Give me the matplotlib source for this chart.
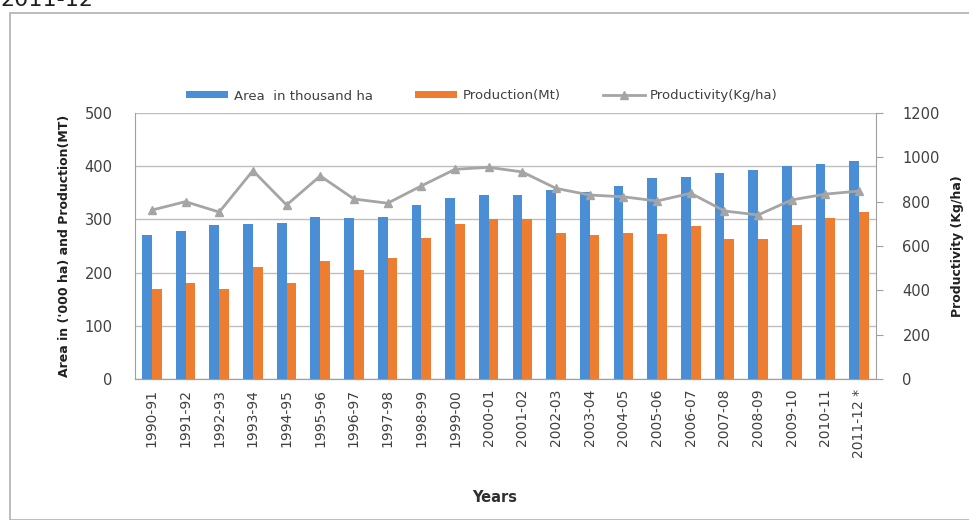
import matplotlib
matplotlib.use("Agg")
import matplotlib.pyplot as plt
import numpy as np
from matplotlib.patches import Rectangle

years = ["1990-91", "1991-92", "1992-93", "1993-94", "1994-95", "1995-96", "1996-97",
         "1997-98", "1998-99", "1999-00", "2000-01", "2001-02", "2002-03", "2003-04",
         "2004-05", "2005-06", "2006-07", "2007-08", "2008-09", "2009-10", "2010-11",
         "2011-12 *"]
area = [270, 278, 290, 292, 293, 305, 302, 305, 328, 340, 346, 346, 355, 352, 362,
        378, 380, 388, 393, 400, 405, 409]
production = [170, 180, 169, 210, 180, 222, 205, 228, 265, 291, 300, 300, 275, 271,
              275, 273, 287, 263, 263, 289, 302, 314]
productivity = [762, 800, 753, 940, 785, 916, 812, 793, 871, 946, 955, 934, 860, 830,
                822, 803, 838, 758, 740, 808, 834, 848]

fig = plt.figure(figsize=(9.69, 5.2), dpi=100)
ax = fig.add_axes([135/969, 1-379/520, (876-135)/969, (379-113)/520])
ax2 = ax.twinx()

blue = "#4A8FD6"
orange = "#ED7D31"
gray = "#A5A5A5"
tc = "#404040"

x = np.arange(len(years))
w = 0.29
ax.bar(x - w/2, area, w, color=blue, label="Area  in thousand ha", zorder=3)
ax.bar(x + w/2, production, w, color=orange, label="Production(Mt)", zorder=3)
ax2.plot(x, productivity, color=gray, marker="^", markersize=6, linewidth=2,
         label="Productivity(Kg/ha)", zorder=4)

ax.set_xlim(-0.5, len(years) - 0.5)
ax.set_ylim(0, 500)
ax.set_yticks(range(0, 501, 100))
ax2.set_ylim(0, 1200)
ax2.set_yticks(range(0, 1201, 200))
ax.yaxis.grid(True, color="#BFBFBF", linewidth=1, zorder=0)
ax.set_axisbelow(True)

ax.set_xticks(x)
ax.set_xticklabels(years, rotation=90, fontsize=10, color=tc)
ax.tick_params(axis="x", length=0, pad=7)
ax.tick_params(axis="y", length=0, labelsize=10.5, colors=tc, pad=16)
ax2.tick_params(axis="y", length=5, direction="out", labelsize=10.5, colors=tc, pad=14,
                color="#A0A0A0")

for a in (ax, ax2):
    a.spines["top"].set_visible(False)
    a.spines["left"].set_color("#A0A0A0")
    a.spines["right"].set_color("#A0A0A0")
    a.spines["bottom"].set_color("#A0A0A0")
ax2.spines["left"].set_visible(False)
ax.spines["right"].set_visible(False)

ax.set_ylabel("Area in ('000 ha) and Production(MT)", fontsize=9, fontweight="bold",
              color="#202020", labelpad=10)
ax2.set_ylabel("Productivity (Kg/ha)", fontsize=9, fontweight="bold",
               color="#202020", labelpad=8)
fig.text(495/969, 1-498/520, "Years", ha="center", va="center", fontsize=10.5,
         fontweight="bold", color="#303030")

h1, l1 = ax.get_legend_handles_labels()
h2, l2 = ax2.get_legend_handles_labels()
fig.legend(h1 + h2, l1 + l2, loc="center", bbox_to_anchor=(482/969, 1-96/520), ncol=3,
           frameon=False, fontsize=9.5, handlelength=3.2, handleheight=0.45,
           handletextpad=0.4, columnspacing=3.2, labelcolor="#404040")

fig.patches.append(Rectangle((10/969, 0), 1.2, 1-13/520, transform=fig.transFigure,
                             fill=False, edgecolor="#B0B0B0", linewidth=1.2))
fig.text(0.0, 1-6/520, "2011-12", ha="left", va="baseline", fontsize=16,
         color="#202020", family="DejaVu Sans")

fig.savefig("out.png", dpi=100)
